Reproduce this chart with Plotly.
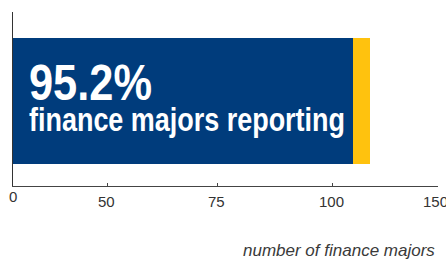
import plotly.graph_objects as go

category = ["finance majors"]
reporting = [120]
not_reporting = [6]
tick_values = [0, 33.3, 72.0, 112.8, 150]
tick_labels = ["0", "50", "75", "100", "150"]
headline = "95.2%"
subline = "finance majors reporting"
axis_title = "number of finance majors"

NAVY = "#003C7C"
YELLOW = "#FFC20E"
SANS = "Liberation Sans, Arial, sans-serif"

fig = go.Figure()
fig.add_trace(go.Bar(y=[0], x=reporting, orientation="h", marker=dict(color=NAVY, line=dict(width=0)),
                     width=0.724, name="reporting", hoverinfo="skip"))
fig.add_trace(go.Bar(y=[0], x=not_reporting, orientation="h", marker=dict(color=YELLOW, line=dict(width=0)),
                     width=0.724, name="not reporting", hoverinfo="skip"))

fig.update_layout(
    barmode="stack",
    width=446, height=264,
    margin=dict(l=13, r=8, t=12, b=78, autoexpand=False),
    paper_bgcolor="white", plot_bgcolor="white",
    showlegend=False,
    xaxis=dict(range=[0, 150], tickvals=tick_values, showticklabels=False, automargin=False,
               showgrid=False, zeroline=False, showline=True, linecolor="#444444", linewidth=1.3,
               ticks="inside", ticklen=3, tickwidth=1, tickcolor="#444444"),
    yaxis=dict(range=[-0.4885, 0.5115], showticklabels=False, showgrid=False, zeroline=False,
               automargin=False, showline=True, linecolor="#333333", linewidth=1.5, ticks=""),
    font=dict(family=SANS),
)

fig.add_annotation(text=headline, xref="paper", yref="paper", x=0.0329, y=0.592,
                   xanchor="left", yanchor="middle", align="left", showarrow=False,
                   font=dict(family=SANS, size=50, color="white", weight="bold"))
fig.add_annotation(text=subline, xref="paper", yref="paper", x=0.0329, y=0.387,
                   xanchor="left", yanchor="middle", align="left", showarrow=False,
                   font=dict(family=SANS, size=34, color="white", weight="bold"))

tick_y = [-0.059, -0.090, -0.090, -0.090, -0.090]
tick_dx = [0, -1, -1, -1, -3]
for v, lab, ty, dx in zip(tick_values, tick_labels, tick_y, tick_dx):
    fig.add_annotation(text=lab, xref="x", yref="paper", x=v, y=ty, xshift=dx,
                       xanchor="center", yanchor="middle", showarrow=False,
                       font=dict(family=SANS, size=15, color="#333333"))

fig.add_annotation(text=axis_title, xref="paper", yref="paper", x=0.9976, y=-0.368,
                   xanchor="right", yanchor="middle", showarrow=False,
                   font=dict(family=SANS, size=17, color="#3a3a3a", style="italic"))

post = """
document.body.style.margin = '0';
document.body.style.overflow = 'hidden';
var gd = document.getElementById('{plot_id}');
var fits = {'95.2%': 123, 'finance majors reporting': 316};
function fixText() {
  var nodes = gd.querySelectorAll('text.annotation-text');
  nodes.forEach(function (t) {
    var L = fits[t.textContent];
    if (L) {
      t.setAttribute('textLength', L);
      t.setAttribute('lengthAdjust', 'spacingAndGlyphs');
    }
  });
}
fixText();
if (gd.on) { gd.on('plotly_afterplot', fixText); }
setTimeout(fixText, 30);
"""

fig.write_html("out.html", post_script=post, config={"displayModeBar": False, "staticPlot": True})
